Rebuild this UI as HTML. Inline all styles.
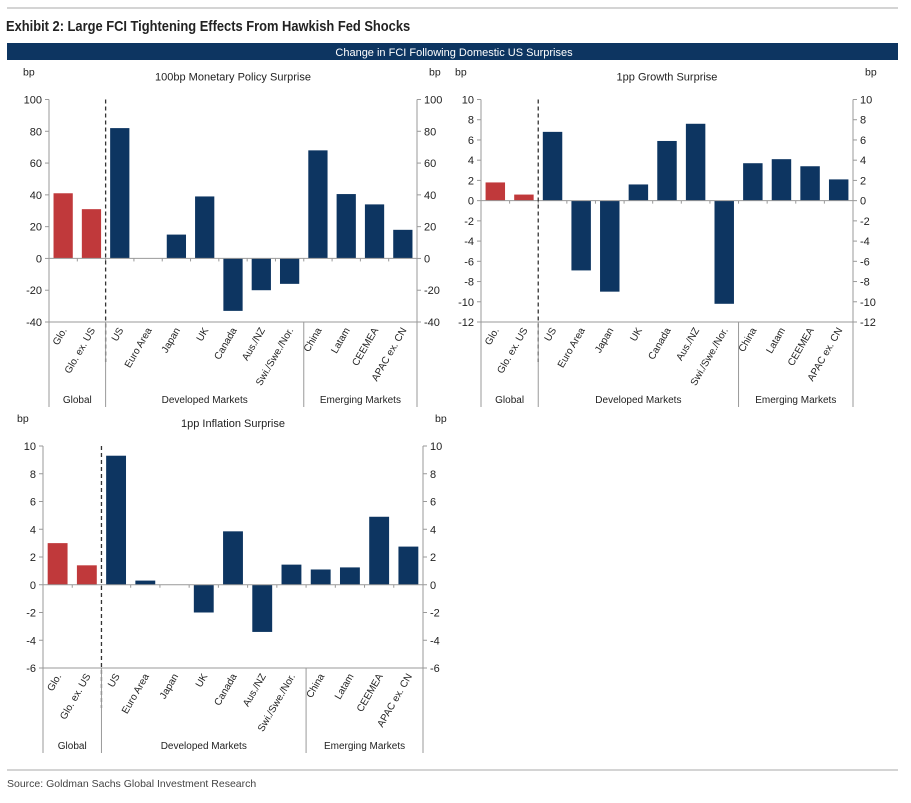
<!DOCTYPE html>
<html><head><meta charset="utf-8"><style>
body{margin:0;background:#fff;width:911px;height:798px;overflow:hidden;font-family:"Liberation Sans",sans-serif}
svg text{font-family:"Liberation Sans",sans-serif}
</style></head><body>
<svg width="911" height="798" xmlns="http://www.w3.org/2000/svg" id="root">
<line x1="7" y1="8" x2="898" y2="8" stroke="#aaa" stroke-width="1"/>
<text x="7" y="31" font-size="15" font-weight="bold" fill="#222" transform="scale(0.86,1)">Exhibit 2: Large FCI Tightening Effects From Hawkish Fed Shocks</text>
<rect x="7" y="43" width="891" height="17" fill="#0d3561"/>
<text x="454" y="56" font-size="11" fill="#fff" text-anchor="middle">Change in FCI Following Domestic US Surprises</text>
<line x1="7" y1="770" x2="898" y2="770" stroke="#aaa"/>
<text x="7" y="787" font-size="10.5" fill="#444">Source: Goldman Sachs Global Investment Research</text>
<g id="c1"></g>
<g id="c2"></g>
<g id="c3"></g>
</svg>
<script>
const categories=["Glo.","Glo. ex. US","US","Euro Area","Japan","UK","Canada","Aus./NZ","Swi./Swe./Nor.","China","Latam","CEEMEA","APAC ex. CN"];
const groups=["Global","Developed Markets","Emerging Markets"];
const groupStarts=[0,2,9];
const monetaryValues=[41,31,82,0,15,39,-33,-20,-16,68,40.5,34,18];
const growthValues=[1.8,0.6,6.8,-6.9,-9,1.6,5.9,7.6,-10.2,3.7,4.1,3.4,2.1];
const inflationValues=[3.0,1.4,9.3,0.3,0,-2,3.85,-3.4,1.45,1.1,1.25,4.9,2.75];
const monetaryTicks=[100,80,60,40,20,0,-20,-40];
const growthTicks=[10,8,6,4,2,0,-2,-4,-6,-8,-10,-12];
const inflationTicks=[10,8,6,4,2,0,-2,-4,-6];
const NS="http://www.w3.org/2000/svg";
function mk(p,tag,at,txt){const e=document.createElementNS(NS,tag);for(const k in at)e.setAttribute(k,at[k]);if(txt!==undefined)e.textContent=txt;p.appendChild(e);return e;}
function draw(id,title,vals,ticks,L,R,T,B,bottom){
 const g=document.getElementById(id);
 const max=ticks[0],min=ticks[ticks.length-1];
 const y=v=>T+(max-v)/(max-min)*(B-T);
 const band=(R-L)/categories.length;
 const x=i=>L+i*band;
 let t=mk(g,'text',{x:(L+R)/2,y:T-19,'font-size':11,'text-anchor':'middle',fill:'#222'},title);
 
 t=mk(g,'text',{x:L-26,y:T-24,'font-size':10.5,fill:'#222'},'bp');
 t=mk(g,'text',{x:R+12,y:T-24,'font-size':10.5,fill:'#222'},'bp');
 let a=mk(g,'line',{x1:L,y1:T,x2:L,y2:bottom,stroke:'#999'});
 a=mk(g,'line',{x1:R,y1:T,x2:R,y2:bottom,stroke:'#999'});
 a=mk(g,'line',{x1:L,y1:B,x2:R,y2:B,stroke:'#999'});
 ticks.forEach(v=>{
  let e=mk(g,'text',{x:L-7,y:y(v)+4,'font-size':11,'text-anchor':'end',fill:'#222'},v);
  
  e=mk(g,'text',{x:R+7,y:y(v)+4,'font-size':11,fill:'#222'},v);
  
  mk(g,'line',{x1:L-4,y1:y(v),x2:L,y2:y(v),stroke:'#999'});
  mk(g,'line',{x1:R,y1:y(v),x2:R+4,y2:y(v),stroke:'#999'});
 });
 vals.forEach((v,i)=>{
  const bw=band*0.68;
  const r=mk(g,'rect',{x:x(i)+(band-bw)/2,y:Math.min(y(v),y(0)),width:bw,height:Math.abs(y(v)-y(0)),fill:i<2?'#c0393b':'#0d3561'});
  
  
  const cx=x(i)+band/2+4;
  const l=mk(g,'text',{x:cx,y:B+8,'font-size':10,'text-anchor':'end',fill:'#222',transform:`rotate(-60 ${cx} ${B+8})`},categories[i]);
  
 });
 const z=mk(g,'line',{x1:L,y1:y(0),x2:R,y2:y(0),stroke:'#999'});
 
 for(let i=0;i<=categories.length;i++)mk(g,'line',{x1:x(i),y1:y(0),x2:x(i),y2:y(0)+3,stroke:'#999'});
 const d=mk(g,'line',{x1:x(2),y1:T,x2:x(2),y2:B+40,stroke:'#333','stroke-dasharray':'4,3','stroke-width':1.3});
 
 groups.forEach((gn,k)=>{
  const s=groupStarts[k],e=k<2?groupStarts[k+1]:categories.length;
  if(k>0){mk(g,'line',{x1:x(s),y1:B,x2:x(s),y2:bottom,stroke:'#999'});}
  const gl=mk(g,'text',{x:(x(s)+x(e))/2,y:bottom-4,'font-size':10,'text-anchor':'middle',fill:'#222'},gn);
  
 });
}
draw('c1','100bp Monetary Policy Surprise',monetaryValues,monetaryTicks,49,417,99.5,322,407);
draw('c2','1pp Growth Surprise',growthValues,growthTicks,481,853,99.5,322,407);
draw('c3','1pp Inflation Surprise',inflationValues,inflationTicks,43,423,446,668,753);
</script>
</body></html>
